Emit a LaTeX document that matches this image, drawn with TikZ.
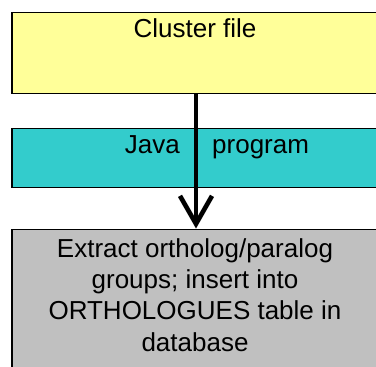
\documentclass[tikz,border=0pt]{standalone}
\usepackage{fontspec}
\setmainfont{Liberation Sans}
\usetikzlibrary{arrows.meta}
\definecolor{fileyellow}{HTML}{FFFF99}
\definecolor{progcyan}{HTML}{33CCCC}
\definecolor{dbgray}{HTML}{C0C0C0}
\tikzset{
  stagebox/.style={draw=black, line width=1.3pt, rectangle, inner sep=0pt,
    minimum width=400pt, anchor=north west},
  stagetext/.style={font=\fontsize{26}{31.4}\selectfont, inner sep=0pt, text=black},
  flow/.style={line width=4.6pt, -{Straight Barb[length=28pt,width=32pt,line width=4.6pt]}}
}
\begin{document}
\begin{tikzpicture}[x=1pt,y=-1pt]
  \useasboundingbox (0,0) rectangle (376,367);
  \clip (0,0) rectangle (376,367);
  % the three stages, running off the right and bottom edges
  \node[stagebox, fill=fileyellow, minimum height=81pt] (file) at (11.5,12) {};
  \node[stagebox, fill=progcyan,   minimum height=59pt] (prog) at (11.5,128) {};
  \node[stagebox, fill=dbgray,     minimum height=160pt] (db)  at (11.5,228.5) {};
  % labels
  \node[stagetext, anchor=base] (filetxt) at (195,37) {Cluster file};
  \node[stagetext, anchor=base east] (javatxt) at (180,153) {Java};
  \node[stagetext, anchor=base west] (progtxt) at (212,153) {program};
  % base of a multi-line node is the baseline of its last line
  \node[stagetext, anchor=base, align=center] (dbtxt) at (195,351.2)
    {Extract ortholog/paralog\\groups; insert into\\ORTHOLOGUES table in\\database};
  % flow arrow through the program stage
  \coordinate (ax) at (196,0);
  \draw[flow] (file.south -| ax) -- (db.north -| ax);
\end{tikzpicture}
\end{document}
